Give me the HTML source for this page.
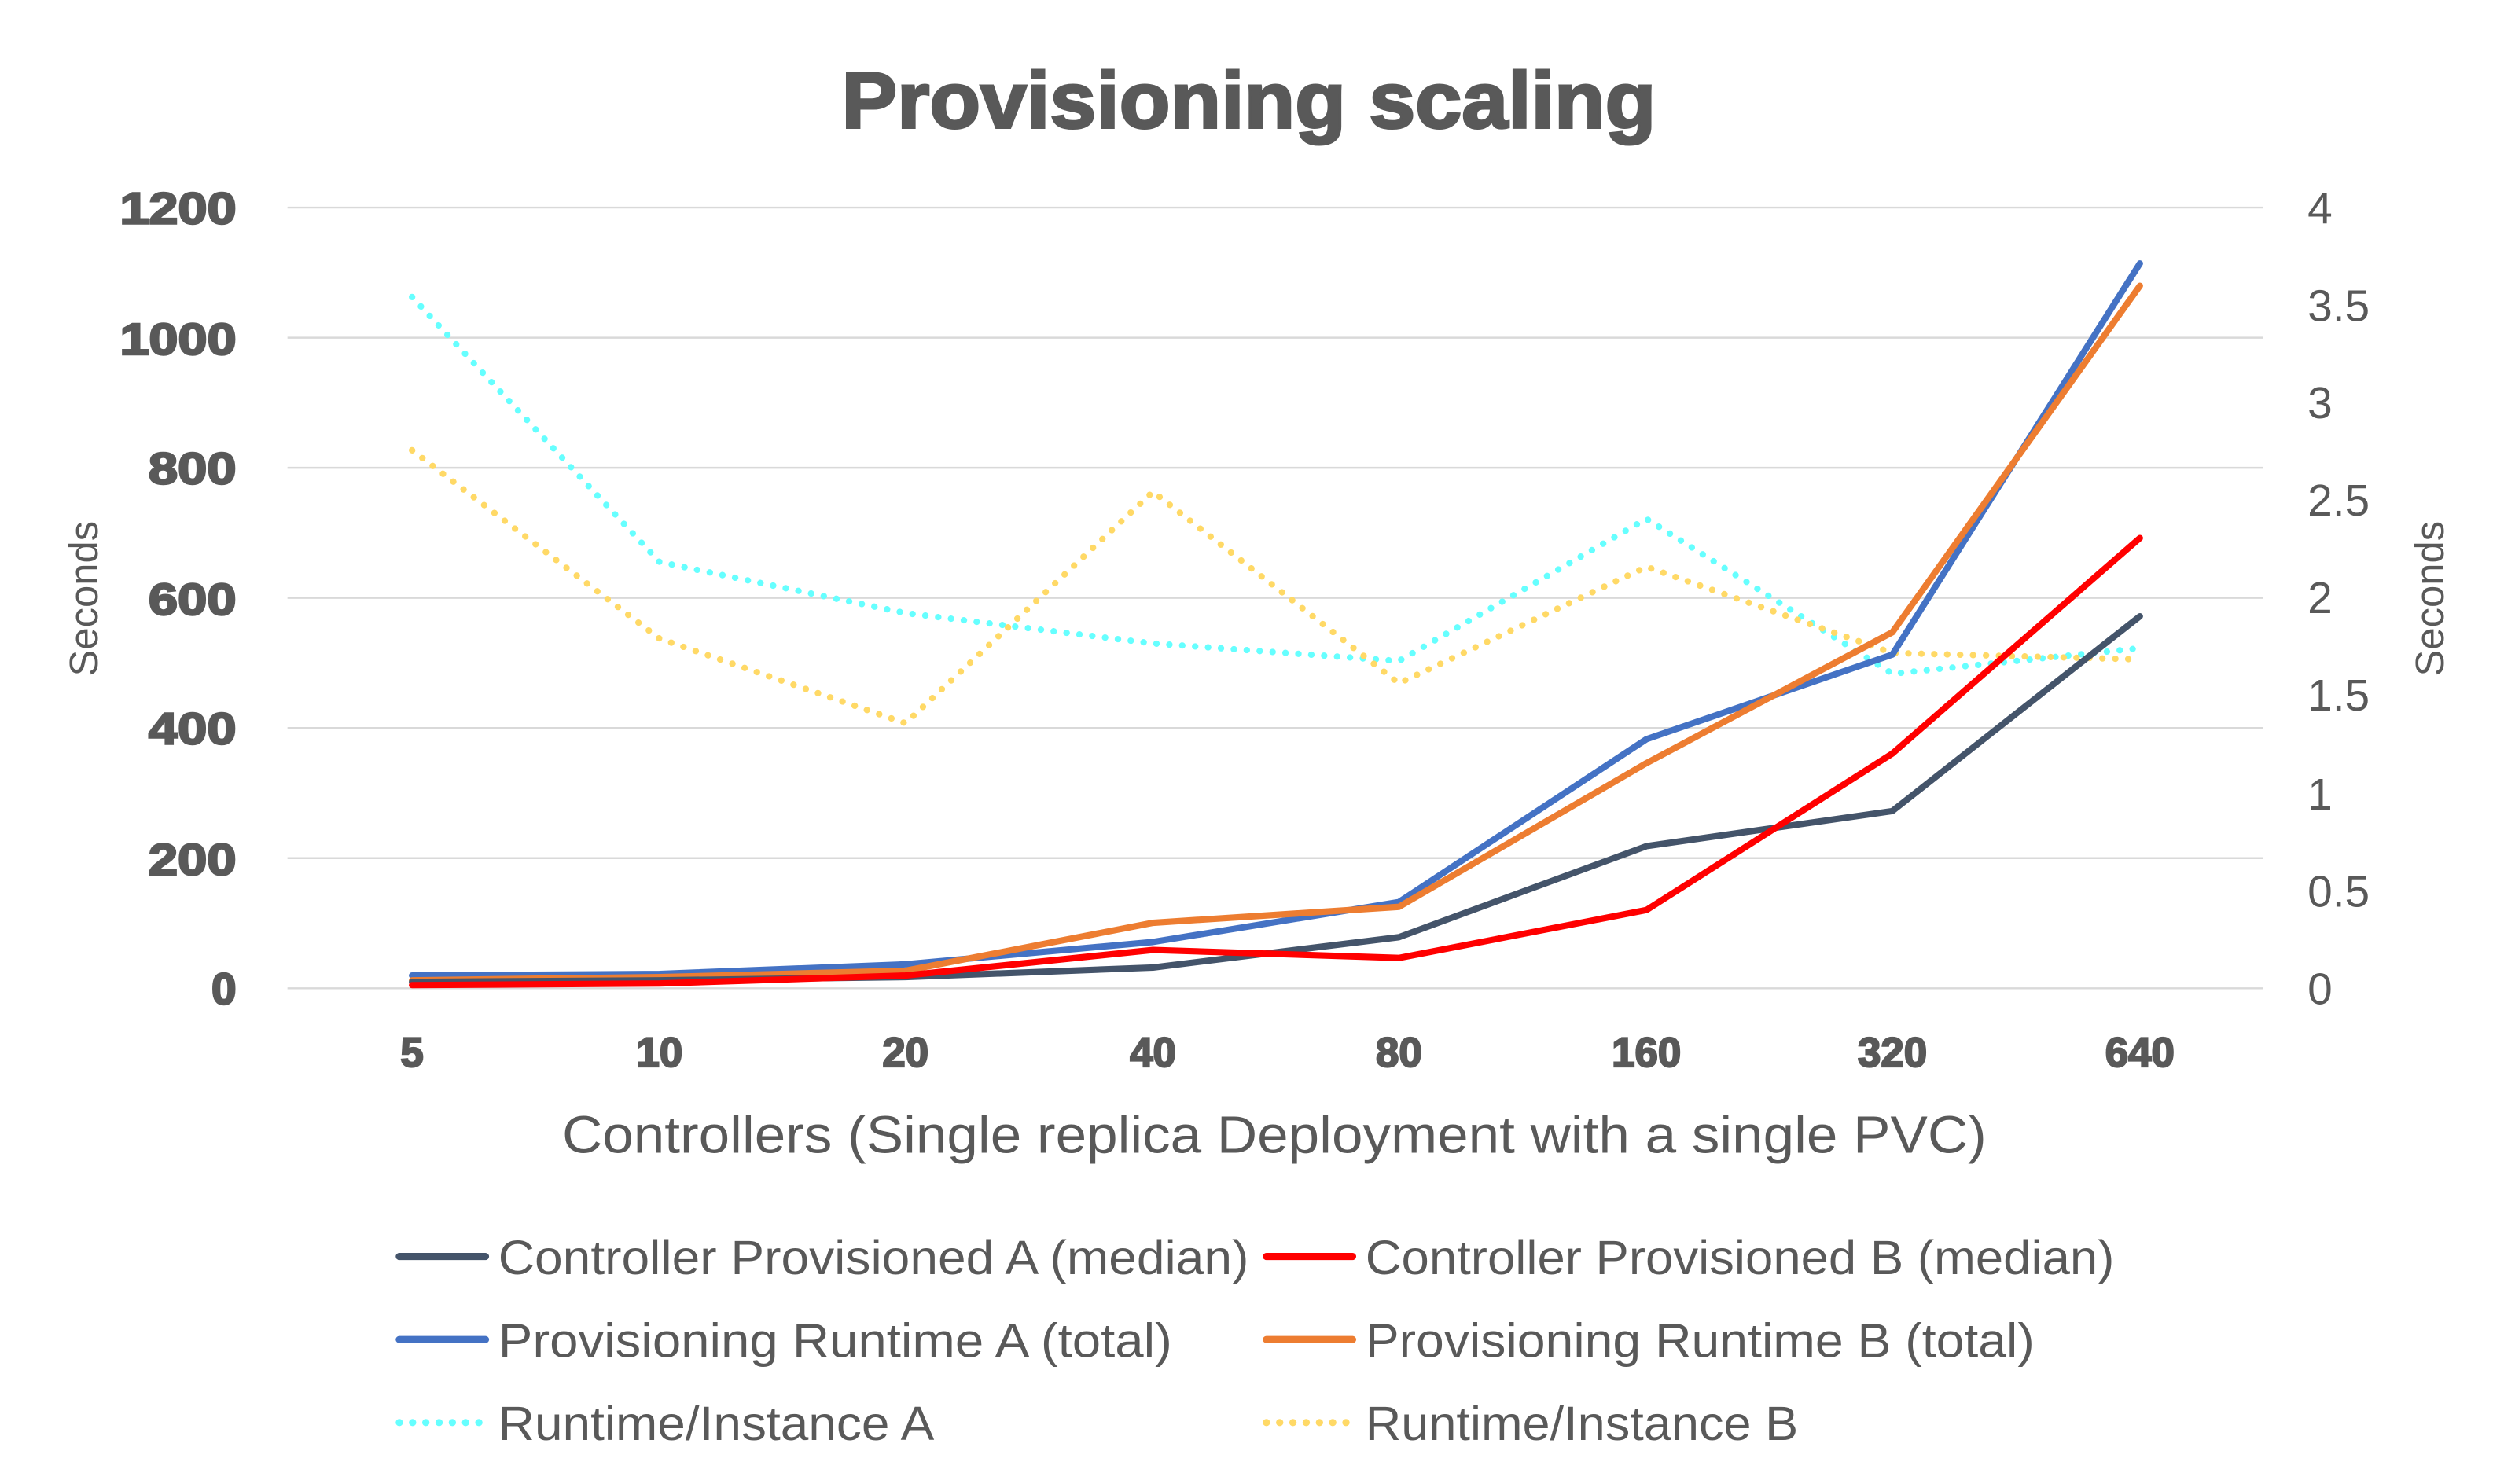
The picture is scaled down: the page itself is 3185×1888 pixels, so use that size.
<!DOCTYPE html>
<html><head><meta charset="utf-8"><style>
html,body{margin:0;padding:0;background:#fff;}
svg{display:block;}
text{font-family:"Liberation Sans",sans-serif;fill:#595959;}
</style></head><body>
<svg width="3185" height="1888" viewBox="0 0 1568 929.5" xmlns="http://www.w3.org/2000/svg">
<text x="782" y="80" text-anchor="middle" font-size="50" font-weight="bold" stroke="#595959" stroke-width="1.5" textLength="510" lengthAdjust="spacingAndGlyphs">Provisioning scaling</text>
<g stroke="#d9d9d9" stroke-width="1.2">
<line x1="180" y1="130" x2="1417" y2="130"/><line x1="180" y1="211.5" x2="1417" y2="211.5"/>
<line x1="180" y1="293" x2="1417" y2="293"/><line x1="180" y1="374.5" x2="1417" y2="374.5"/>
<line x1="180" y1="456" x2="1417" y2="456"/><line x1="180" y1="537.5" x2="1417" y2="537.5"/>
<line x1="180" y1="619" x2="1417" y2="619"/>
</g>
<g font-size="28" font-weight="900" text-anchor="end" stroke="#595959" stroke-width="1.2">
<text x="148" y="140" textLength="73" lengthAdjust="spacingAndGlyphs">1200</text>
<text x="148" y="222" textLength="73" lengthAdjust="spacingAndGlyphs">1000</text>
<text x="148" y="303" textLength="55" lengthAdjust="spacingAndGlyphs">800</text>
<text x="148" y="385" textLength="55" lengthAdjust="spacingAndGlyphs">600</text>
<text x="148" y="466" textLength="55" lengthAdjust="spacingAndGlyphs">400</text>
<text x="148" y="548" textLength="55" lengthAdjust="spacingAndGlyphs">200</text>
<text x="148" y="629">0</text>
</g>
<g font-size="28">
<text x="1445" y="140">4</text><text x="1445" y="201">3.5</text><text x="1445" y="262">3</text>
<text x="1445" y="323">2.5</text><text x="1445" y="384">2</text><text x="1445" y="445">1.5</text>
<text x="1445" y="507">1</text><text x="1445" y="568">0.5</text><text x="1445" y="629">0</text>
</g>
<text transform="translate(61,375) rotate(-90)" text-anchor="middle" font-size="25">Seconds</text>
<text transform="translate(1530,375) rotate(-90)" text-anchor="middle" font-size="25">Seconds</text>
<g font-size="26" font-weight="900" text-anchor="middle" stroke="#595959" stroke-width="1.1">
<text x="258" y="668">5</text><text x="413" y="668">10</text><text x="567" y="668">20</text><text x="722" y="668">40</text>
<text x="876" y="668">80</text><text x="1031" y="668">160</text><text x="1185" y="668">320</text><text x="1340" y="668">640</text>
</g>
<text x="798" y="722" text-anchor="middle" font-size="33" textLength="892" lengthAdjust="spacingAndGlyphs">Controllers (Single replica Deployment with a single PVC)</text>
<g fill="none" stroke-linejoin="round" stroke-linecap="round">
<polyline stroke="#66ffff" stroke-width="4" stroke-dasharray="0.1 8" points="258,186 413,352 567,384 722,403 876,414 1031,325 1185,422 1340,406"/>
<polyline stroke="#ffd966" stroke-width="4" stroke-dasharray="0.1 8" points="258,282 413,400 567,453 722,308 876,428 1031,355 1185,409 1340,413"/>
<polyline stroke="#4472c4" stroke-width="4" points="258,611 413,610 567,604 722,590 876,565 1031,463 1185,410 1340,165"/>
<polyline stroke="#ed7d31" stroke-width="4" points="258,614 413,612 567,608 722,578 876,568 1031,478 1185,396 1340,179"/>
<polyline stroke="#44546a" stroke-width="4" points="258,615 413,614 567,612 722,606 876,587 1031,530 1185,508 1340,386"/>
<polyline stroke="#ff0000" stroke-width="4" points="258,617 413,616 567,611 722,595 876,600 1031,570 1185,472 1340,337"/>
</g>
<g stroke-width="4.5" stroke-linecap="round">
<line x1="250" y1="787" x2="304" y2="787" stroke="#44546a"/>
<line x1="793" y1="787" x2="847" y2="787" stroke="#ff0000"/>
<line x1="250" y1="839" x2="304" y2="839" stroke="#4472c4"/>
<line x1="793" y1="839" x2="847" y2="839" stroke="#ed7d31"/>
<line x1="250" y1="891" x2="304" y2="891" stroke="#66ffff" stroke-dasharray="0.1 8.2"/>
<line x1="793" y1="891" x2="847" y2="891" stroke="#ffd966" stroke-dasharray="0.1 8.2"/>
</g>
<g font-size="30">
<text x="312" y="798" textLength="470" lengthAdjust="spacingAndGlyphs">Controller Provisioned A (median)</text>
<text x="855" y="798" textLength="469" lengthAdjust="spacingAndGlyphs">Controller Provisioned B (median)</text>
<text x="312" y="850" textLength="422" lengthAdjust="spacingAndGlyphs">Provisioning Runtime A (total)</text>
<text x="855" y="850" textLength="419" lengthAdjust="spacingAndGlyphs">Provisioning Runtime B (total)</text>
<text x="312" y="902" textLength="273" lengthAdjust="spacingAndGlyphs">Runtime/Instance A</text>
<text x="855" y="902" textLength="271" lengthAdjust="spacingAndGlyphs">Runtime/Instance B</text>
</g>
</svg>
</body></html>
